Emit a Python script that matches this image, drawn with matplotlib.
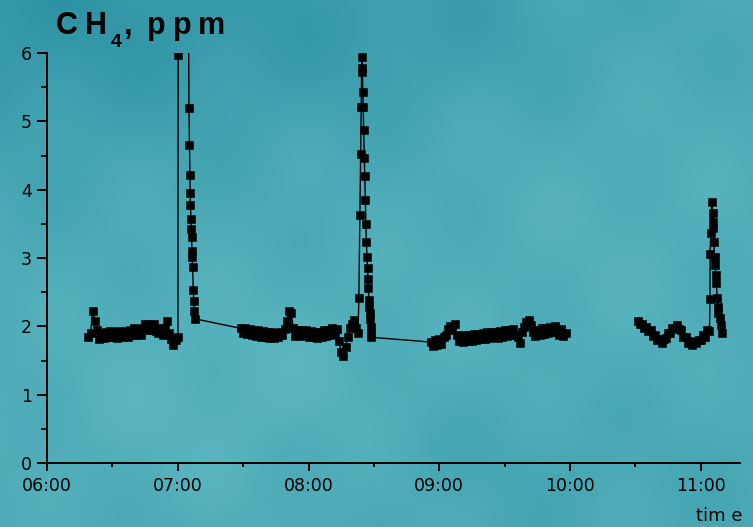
import numpy as np
import matplotlib
matplotlib.use("Agg")
from matplotlib import pyplot as plt
from matplotlib.ticker import MultipleLocator, FuncFormatter

# CH4 record; time in minutes after 06:00, concentration in ppm.
# Quiet stretches are logged once a minute, the peaks are listed point by point.
seg1_start = 19
seg1_ppm = [1.84, 1.90, 2.22, 2.08, 1.95, 1.82, 1.90, 1.83, 1.92, 1.84, 1.93,
            1.85, 1.91, 1.83, 1.93, 1.86, 1.84, 1.93, 1.85, 1.95, 1.87, 1.97,
            1.88, 1.96, 1.87, 1.98, 2.03, 1.95, 2.04, 1.94, 2.03, 1.93, 1.90,
            1.98, 1.88, 1.97, 2.08, 1.90, 1.82, 1.72, 1.80]

spike1_t = [60.1, 60.2, 64.9, 65.14, 65.37, 65.6, 65.73, 65.83, 66.06, 66.2,
            66.33, 66.51, 66.6, 66.83, 67.11, 67.34, 67.57, 67.89]
spike1_ppm = [1.85, 5.97, 7.0, 5.20, 4.65, 4.21, 3.95, 3.78, 3.57, 3.42,
              3.31, 3.10, 3.02, 2.87, 2.53, 2.37, 2.22, 2.11]

seg2_start = 89
seg2_ppm = [1.97, 1.90, 1.98, 1.89, 1.96, 1.88, 1.95, 1.86, 1.94, 1.85,
            1.93, 1.84, 1.92, 1.83, 1.91, 1.83, 1.90, 1.84, 1.92, 1.87,
            1.96, 2.08, 2.23, 2.20, 1.98, 1.86, 1.95, 1.86, 1.95, 1.87,
            1.94, 1.85, 1.93, 1.84, 1.92, 1.83, 1.91, 1.84, 1.94, 1.86,
            1.95, 1.88, 1.97, 1.89, 1.96, 1.78, 1.62, 1.57, 1.70, 1.85,
            1.97, 2.03, 2.09, 1.98]

spike2_t = [142.7, 143.1, 143.6, 144.0, 144.2, 144.45, 144.6, 144.75, 144.9,
            145.1, 145.3, 145.6, 145.8, 146.1, 146.3, 146.6, 146.8, 147.1,
            147.3, 147.5, 147.7, 147.9, 148.1, 148.3, 148.5, 148.7, 148.9]
spike2_ppm = [1.90, 2.41, 3.63, 4.52, 5.21, 5.94, 5.78, 5.72, 5.43, 5.21,
              4.87, 4.46, 4.20, 3.85, 3.50, 3.23, 3.02, 2.85, 2.69, 2.56,
              2.38, 2.28, 2.20, 2.11, 1.99, 1.90, 1.84]

seg3_start = 176
seg3_ppm = [1.77, 1.71, 1.80, 1.72, 1.82, 1.74, 1.84, 1.88, 1.96, 2.01,
            1.95, 2.03, 1.88, 1.78, 1.86, 1.77, 1.87, 1.78, 1.88, 1.79,
            1.89, 1.80, 1.89, 1.81, 1.90, 1.82, 1.91, 1.83, 1.92, 1.84,
            1.92, 1.83, 1.93, 1.85, 1.94, 1.86, 1.95, 1.87, 1.96, 1.88,
            1.84, 1.76, 1.92, 1.99, 2.06, 2.10, 2.02, 1.91, 1.86, 1.95,
            1.87, 1.97, 1.89, 1.98, 1.90, 1.99, 1.91, 2.00, 1.92, 1.88,
            1.96, 1.86, 1.90]

seg4_start = 271
seg4_ppm = [2.08, 2.03, 2.04, 1.98, 1.99, 1.93, 1.94, 1.86, 1.87, 1.80,
            1.81, 1.76, 1.81, 1.83, 1.90, 1.90, 1.98, 1.97, 2.02, 1.96,
            1.95, 1.85, 1.84, 1.76, 1.77, 1.73, 1.78, 1.75, 1.80, 1.80,
            1.87, 1.85, 1.94, 1.93]

spike3_t = [304.2, 304.3, 304.6, 305.05, 305.5, 305.6, 305.8, 305.96, 306.3,
            306.6, 306.9, 307.2, 307.5, 307.8, 308.1, 308.6, 309.2, 309.6]
spike3_ppm = [2.40, 3.06, 3.37, 3.82, 3.66, 3.53, 3.44, 3.23, 3.02,
              2.90, 2.75, 2.63, 2.41, 2.28, 2.20, 2.12, 2.02, 1.90]


def minute_series(start, values):
    return start + np.arange(len(values))


def teal_backdrop(nx=300, ny=210):
    x = np.linspace(0.0, 1.0, nx)
    y = np.linspace(1.0, 0.0, ny)
    xx, yy = np.meshgrid(x, y)

    def blob(cx, cy, sx, sy):
        return np.exp(-((xx - cx) ** 2 / (2 * sx ** 2) + (yy - cy) ** 2 / (2 * sy ** 2)))

    shade = (-0.10 * blob(0.05, 1.0, 0.25, 0.18)
             - 0.05 * blob(0.55, 0.95, 0.2, 0.12)
             + 0.06 * blob(0.30, 0.25, 0.25, 0.2)
             + 0.04 * blob(0.85, 0.55, 0.2, 0.25)
             - 0.03 * blob(0.65, 0.15, 0.15, 0.1)
             + 0.012 * np.sin(30 * (0.8 * xx + 0.5 * yy))
             + 0.008 * np.sin(55 * (0.6 * xx - 0.3 * yy)))
    base = np.array([0.29, 0.66, 0.71])
    tint = np.array([0.9, 0.7, 0.55])
    img = base[None, None, :] + shade[:, :, None] * tint[None, None, :]
    return np.clip(img, 0, 1)


t_main = np.concatenate([minute_series(seg1_start, seg1_ppm), spike1_t,
                         minute_series(seg2_start, seg2_ppm), spike2_t,
                         minute_series(seg3_start, seg3_ppm)])
c_main = np.concatenate([seg1_ppm, spike1_ppm, seg2_ppm, spike2_ppm, seg3_ppm])
t_late = np.concatenate([minute_series(seg4_start, seg4_ppm), spike3_t])
c_late = np.concatenate([seg4_ppm, spike3_ppm])

fig = plt.figure(figsize=(7.53, 5.27), dpi=100)
bg = fig.add_axes([0, 0, 1, 1], zorder=0)
bg.imshow(teal_backdrop(), aspect="auto", interpolation="bicubic",
          extent=[0, 1, 0, 1])
bg.axis("off")

ax = fig.add_axes([47 / 753, 64 / 527, 693 / 753, 410 / 527], zorder=1)
ax.patch.set_alpha(0)

style = dict(color="black", lw=1.0, marker="s", ms=5.8, mfc="black",
             mec="black", mew=0.4)
ax.plot(t_main, c_main, **style)
ax.plot(t_late, c_late, **style)

ax.set_xlim(0, 318)
ax.set_ylim(0, 6)
for side in ("top", "right"):
    ax.spines[side].set_visible(False)
for side in ("left", "bottom"):
    ax.spines[side].set_linewidth(1.4)

ax.xaxis.set_major_locator(MultipleLocator(60))
ax.xaxis.set_minor_locator(MultipleLocator(30))
ax.xaxis.set_major_formatter(FuncFormatter(lambda v, p: "%02d:00" % (6 + int(v) // 60)))
ax.yaxis.set_major_locator(MultipleLocator(1))
ax.yaxis.set_minor_locator(MultipleLocator(0.5))

ax.tick_params(axis="x", which="major", length=6, width=1.4, pad=4, labelsize=12.5)
ax.tick_params(axis="x", which="minor", length=3, width=1.4)
ax.tick_params(axis="y", which="major", length=7, width=1.4, pad=4, labelsize=12.5)
ax.tick_params(axis="y", which="minor", length=4, width=1.4)

# spaced-out bold heading with the subscript dropped below the baseline
title_font = dict(family="Liberation Sans", weight="bold", color="black")
for ch, xp in [("C", 56), ("H", 85), (",", 124), ("p", 147), ("p", 173), ("m", 198)]:
    fig.text(xp / 753, (527 - 34) / 527, ch, fontsize=22, ha="left",
             va="baseline", **title_font)
fig.text(111 / 753, (527 - 47) / 527, "4", fontsize=14, ha="left",
         va="baseline", **title_font)

fig.text(742 / 753, 2 / 527, "tim e", fontsize=13, ha="right", va="bottom")

fig.savefig("out.png", dpi=100)
